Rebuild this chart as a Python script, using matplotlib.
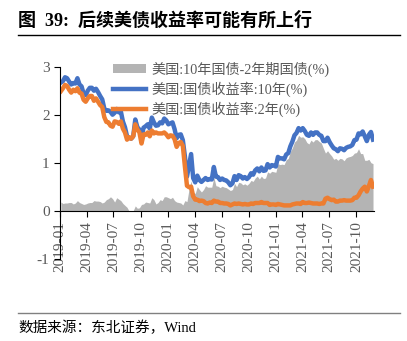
import pandas as pd
import numpy as np
import matplotlib
matplotlib.use("Agg")
import matplotlib.pyplot as plt
import matplotlib.dates as mdates
from matplotlib.patches import Patch
from matplotlib.lines import Line2D

plt.rcParams['font.family'] = ['Liberation Serif', 'Noto Sans CJK SC', 'DejaVu Sans']
plt.rcParams['axes.unicode_minus'] = False

# weekly (Friday) readings, 2019-01-04 .. 2021-11-26
dates = pd.date_range('2019-01-04', '2021-11-26', freq='W-FRI')

y10 = [2.67, 2.70, 2.78, 2.76, 2.69, 2.63, 2.66, 2.65, 2.76, 2.63,
       2.59, 2.44, 2.41, 2.50, 2.56, 2.56, 2.50, 2.54, 2.47, 2.39,
       2.32, 2.13, 2.08, 2.09, 2.06, 2.00, 2.04, 2.12, 2.05, 2.07,
       1.86, 1.74, 1.55, 1.52, 1.50, 1.55, 1.90, 1.74, 1.69, 1.53,
       1.73, 1.76, 1.80, 1.71, 1.94, 1.84, 1.77, 1.78, 1.84, 1.82,
       1.92, 1.88,
       1.80, 1.82, 1.84, 1.70, 1.51, 1.58, 1.59, 1.47, 1.13, 0.71,
       0.94, 1.18, 0.68, 0.59, 0.73, 0.64, 0.60, 0.64, 0.68, 0.64,
       0.66, 0.65, 0.91, 0.71, 0.70, 0.64, 0.67, 0.64, 0.63, 0.59,
       0.53, 0.57, 0.72, 0.64, 0.74, 0.72, 0.67, 0.70, 0.66, 0.70,
       0.78, 0.75, 0.84, 0.88, 0.82, 0.90, 0.83, 0.84, 0.97, 0.90,
       0.95, 0.94,
       0.92, 1.12, 1.09, 1.09, 1.07, 1.17, 1.20, 1.34, 1.44, 1.57,
       1.62, 1.72, 1.67, 1.72, 1.66, 1.58, 1.56, 1.63, 1.58, 1.63,
       1.63, 1.58, 1.56, 1.45, 1.45, 1.52, 1.43, 1.36, 1.30, 1.28,
       1.24, 1.30, 1.29, 1.26, 1.31, 1.33, 1.34, 1.37, 1.47, 1.48,
       1.61, 1.59, 1.65, 1.55, 1.45, 1.58, 1.64, 1.48]

y2 = [2.49, 2.55, 2.62, 2.60, 2.52, 2.46, 2.52, 2.49, 2.55, 2.46,
      2.44, 2.31, 2.27, 2.34, 2.39, 2.39, 2.29, 2.34, 2.27, 2.20,
      2.16, 1.95, 1.85, 1.84, 1.77, 1.75, 1.86, 1.85, 1.81, 1.86,
      1.71, 1.63, 1.48, 1.53, 1.50, 1.55, 1.80, 1.69, 1.63, 1.40,
      1.59, 1.58, 1.63, 1.55, 1.67, 1.61, 1.63, 1.61, 1.61, 1.61,
      1.63, 1.59,
      1.53, 1.57, 1.56, 1.49, 1.33, 1.41, 1.43, 1.35, 0.92, 0.52,
      0.49, 0.50, 0.30, 0.23, 0.23, 0.20, 0.21, 0.20, 0.16, 0.15,
      0.17, 0.16, 0.21, 0.19, 0.19, 0.16, 0.16, 0.15, 0.15, 0.14,
      0.11, 0.13, 0.15, 0.14, 0.15, 0.14, 0.13, 0.14, 0.13, 0.13,
      0.15, 0.14, 0.16, 0.16, 0.16, 0.18, 0.16, 0.16, 0.16, 0.12,
      0.13, 0.13,
      0.12, 0.14, 0.13, 0.12, 0.11, 0.11, 0.11, 0.11, 0.13, 0.14,
      0.15, 0.15, 0.14, 0.18, 0.16, 0.16, 0.17, 0.16, 0.15, 0.15,
      0.15, 0.14, 0.15, 0.15, 0.25, 0.27, 0.24, 0.22, 0.23, 0.19,
      0.19, 0.21, 0.21, 0.22, 0.21, 0.21, 0.21, 0.22, 0.27, 0.27,
      0.32, 0.40, 0.46, 0.50, 0.40, 0.51, 0.64, 0.50]

spread = [0.18, 0.15, 0.16, 0.16, 0.17, 0.17, 0.14, 0.16, 0.21, 0.17,
          0.15, 0.13, 0.14, 0.16, 0.17, 0.17, 0.21, 0.20, 0.20, 0.19,
          0.16, 0.18, 0.23, 0.25, 0.29, 0.25, 0.18, 0.27, 0.24, 0.21,
          0.15, 0.11, 0.07, -0.01, 0.00, 0.00, 0.10, 0.05, 0.06, 0.13,
          0.14, 0.18, 0.17, 0.16, 0.27, 0.23, 0.14, 0.17, 0.23, 0.21,
          0.29, 0.29,
          0.27, 0.25, 0.28, 0.21, 0.18, 0.17, 0.16, 0.12, 0.21, 0.19,
          0.45, 0.62, 0.38, 0.36, 0.50, 0.44, 0.39, 0.44, 0.52, 0.49,
          0.49, 0.49, 0.70, 0.52, 0.51, 0.48, 0.51, 0.49, 0.48, 0.45,
          0.42, 0.44, 0.57, 0.50, 0.59, 0.58, 0.54, 0.56, 0.53, 0.57,
          0.63, 0.61, 0.68, 0.72, 0.66, 0.72, 0.67, 0.68, 0.81, 0.78,
          0.82, 0.81,
          0.80, 0.98, 0.96, 0.97, 0.96, 1.06, 1.09, 1.23, 1.31, 1.43,
          1.47, 1.57, 1.53, 1.54, 1.50, 1.42, 1.39, 1.47, 1.43, 1.48,
          1.48, 1.44, 1.41, 1.30, 1.20, 1.25, 1.19, 1.14, 1.07, 1.09,
          1.05, 1.09, 1.08, 1.04, 1.10, 1.12, 1.13, 1.15, 1.20, 1.21,
          1.29, 1.19, 1.19, 1.05, 1.05, 1.07, 1.00, 0.98]

labels = ['美国:10年国债-2年期国债(%)', '美国:国债收益率:10年(%)', '美国:国债收益率:2年(%)']
title = '图  39:  后续美债收益率可能有所上行'
source = '数据来源：东北证券，Wind'

fig = plt.figure(figsize=(4.07, 3.41), dpi=100)
ax = fig.add_axes([0.1474, 0.2414, 0.772, 0.563])

ax.fill_between(dates, 0, spread, color='#B4B4B4', linewidth=0)
ax.plot(dates, y10, color='#4472C4', linewidth=3.2)
ax.plot(dates, y2, color='#ED7D31', linewidth=3.2)

ax.set_ylim(-1, 3)
ax.set_yticks([-1, 0, 1, 2, 3])
ax.set_xlim(pd.Timestamp('2019-01-01'), pd.Timestamp('2021-11-30'))
ax.xaxis.set_major_locator(mdates.MonthLocator(bymonth=[1, 4, 7, 10]))
ax.xaxis.set_major_formatter(mdates.DateFormatter('%Y-%m'))

for s in ['top', 'right']:
    ax.spines[s].set_visible(False)
ax.spines['bottom'].set_position(('data', 0))
ax.spines['left'].set_color('black')
ax.spines['bottom'].set_color('black')
ax.tick_params(axis='x', labelrotation=90, labelsize=11, labelcolor='#595959',
               length=4, direction='out')
ax.tick_params(axis='y', labelsize=11, labelcolor='#595959', length=4, direction='out')

handles = [Patch(facecolor='#B4B4B4', edgecolor='none'),
           Line2D([], [], color='#4472C4', linewidth=3.2),
           Line2D([], [], color='#ED7D31', linewidth=3.2)]
ax.legend(handles, labels, loc='upper left', bbox_to_anchor=(0.169, 1.025),
          frameon=False, fontsize=10.2, labelcolor='#595959', handlelength=2.3,
          handleheight=0.6, labelspacing=0.3, handletextpad=0.4,
          borderpad=0, borderaxespad=0)

fig.text(0.045, 0.94, title, fontsize=13, fontweight='bold', va='center')
fig.add_artist(Line2D([0.045, 0.983], [0.897, 0.897], color='black', linewidth=1))
fig.add_artist(Line2D([0.045, 0.983], [0.082, 0.082], color='#808080', linewidth=1))
fig.text(0.045, 0.04, source, fontsize=10.5, va='center')

fig.savefig('out.png', dpi=100)
